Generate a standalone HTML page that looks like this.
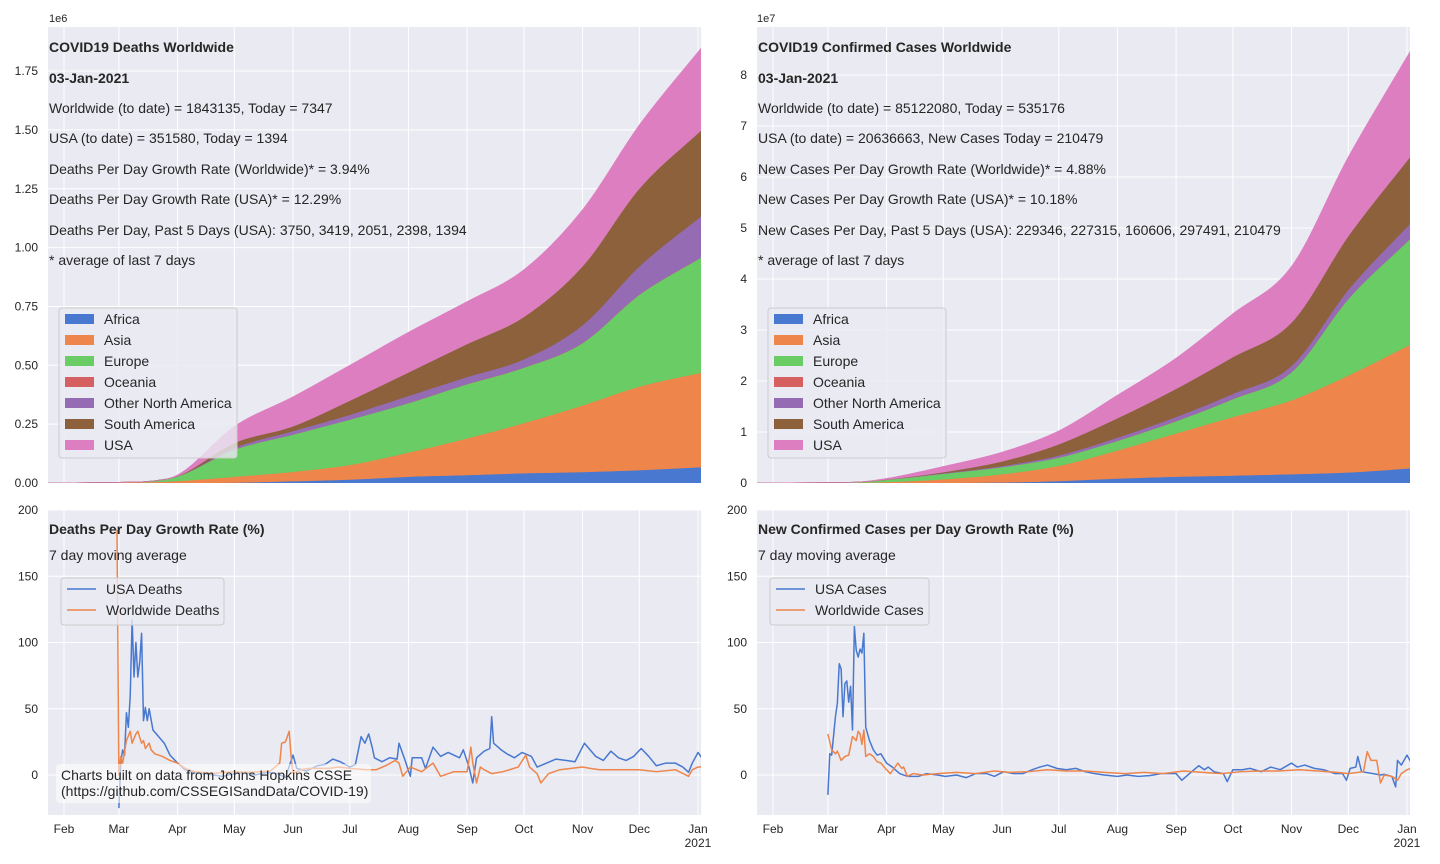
<!DOCTYPE html>
<html><head><meta charset="utf-8"><style>
html,body{margin:0;padding:0;background:#fff;}
svg{display:block;font-family:"Liberation Sans",Arial,sans-serif;}
</style></head><body>
<svg id="root" width="1440" height="864" viewBox="0 0 1440 864" xmlns="http://www.w3.org/2000/svg">
<g id="panels"></g>
<g id="texts" fill="#262626">
 <text x="49" y="22" font-size="11">1e6</text>
 <text x="757" y="22" font-size="11">1e7</text>
 <g font-size="14">
  <text x="49" y="52" font-weight="bold">COVID19 Deaths Worldwide</text>
  <text x="49" y="83" font-weight="bold">03-Jan-2021</text>
  <text x="49" y="113">Worldwide (to date) = 1843135, Today = 7347</text>
  <text x="49" y="143">USA (to date) = 351580, Today = 1394</text>
  <text x="49" y="174">Deaths Per Day Growth Rate (Worldwide)* = 3.94%</text>
  <text x="49" y="204">Deaths Per Day Growth Rate (USA)* = 12.29%</text>
  <text x="49" y="235">Deaths Per Day, Past 5 Days (USA): 3750, 3419, 2051, 2398, 1394</text>
  <text x="49" y="265">* average of last 7 days</text>
 </g>
 <g font-size="14">
  <text x="758" y="52" font-weight="bold">COVID19 Confirmed Cases Worldwide</text>
  <text x="758" y="83" font-weight="bold">03-Jan-2021</text>
  <text x="758" y="113">Worldwide (to date) = 85122080, Today = 535176</text>
  <text x="758" y="143">USA (to date) = 20636663, New Cases Today = 210479</text>
  <text x="758" y="174">New Cases Per Day Growth Rate (Worldwide)* = 4.88%</text>
  <text x="758" y="204">New Cases Per Day Growth Rate (USA)* = 10.18%</text>
  <text x="758" y="235">New Cases Per Day, Past 5 Days (USA): 229346, 227315, 160606, 297491, 210479</text>
  <text x="758" y="265">* average of last 7 days</text>
 </g>
 <text x="49" y="534" font-size="14" font-weight="bold">Deaths Per Day Growth Rate (%)</text>
 <text x="49" y="560" font-size="14">7 day moving average</text>
 <text x="758" y="534" font-size="14" font-weight="bold">New Confirmed Cases per Day Growth Rate (%)</text>
 <text x="758" y="560" font-size="14">7 day moving average</text>
</g>
</svg>
<script>
const NS="http://www.w3.org/2000/svg";
const regions=['Africa','Asia','Europe','Oceania','Other North America','South America','USA'];
const regionColors=['#4878d0','#ee854a','#6acc64','#d65f5f','#956cb4','#8c613c','#dc7ec0'];
const areaDates=['01-22','02-01','03-01','03-15','04-01','05-01','06-01','07-01','08-01','09-01','10-01','11-01','12-01','01-03'];
const deathsAfrica=[0,0,0,0,0.0005,0.002,0.008,0.015,0.027,0.034,0.042,0.047,0.055,0.068];
const deathsAsia=[0,0.0003,0.003,0.004,0.008,0.025,0.04,0.062,0.103,0.156,0.213,0.283,0.355,0.402];
const deathsEurope=[0,0,0,0.002,0.02,0.115,0.158,0.193,0.21,0.23,0.235,0.265,0.39,0.49];
const deathsOceania=[0,0,0,0,0.00003,0.0001,0.0001,0.0001,0.0002,0.0008,0.0009,0.0009,0.0009,0.001];
const deathsOtherNA=[0,0,0,0,0.0005,0.008,0.015,0.02,0.03,0.03,0.035,0.075,0.12,0.175];
const deathsSouthAm=[0,0,0,0,0.0005,0.02,0.02,0.06,0.10,0.14,0.18,0.25,0.33,0.365];
const deathsUSA=[0,0,0,0,0.005,0.07,0.125,0.15,0.17,0.18,0.2,0.24,0.27,0.35];
const casesAfrica=[0,0,0,0,0.0005,0.004,0.014,0.04,0.09,0.125,0.147,0.175,0.21,0.29];
const casesAsia=[0,0.0012,0.008,0.009,0.02,0.07,0.16,0.30,0.55,0.85,1.15,1.45,1.9,2.43];
const casesEurope=[0,0,0.0001,0.006,0.045,0.11,0.14,0.16,0.19,0.24,0.35,0.55,1.5,2.08];
const casesOceania=[0,0,0,0,0.0005,0.0008,0.0009,0.001,0.002,0.003,0.003,0.003,0.003,0.004];
const casesOtherNA=[0,0,0,0,0.002,0.01,0.02,0.04,0.06,0.08,0.1,0.12,0.18,0.3];
const casesSouthAm=[0,0,0,0,0.002,0.02,0.09,0.22,0.38,0.55,0.72,0.85,1.05,1.31];
const casesUSA=[0,0,0,0,0.02,0.11,0.18,0.26,0.45,0.6,0.85,1.1,1.55,2.07];
const deathTicks=['0.00','0.25','0.50','0.75','1.00','1.25','1.50','1.75'];
const caseTicks=['0','1','2','3','4','5','6','7','8'];
const rateTicks=['0','50','100','150','200'];
const monthLabels=['Feb','Mar','Apr','May','Jun','Jul','Aug','Sep','Oct','Nov','Dec','Jan'];
const monthDates=['02-01','03-01','04-01','05-01','06-01','07-01','08-01','09-01','10-01','11-01','12-01','01-01'];
const usaDeathDates=['03-01','03-02','03-03','03-04','03-05','03-06','03-07','03-08','03-09','03-10','03-11','03-12','03-13','03-14','03-15','03-16','03-17','03-19','03-22','03-25','03-28','04-01','04-05','04-10','04-15','04-20','04-25','05-01','05-06','05-12','05-18','05-24','05-28','06-01','06-03','06-08','06-14','06-18','06-22','06-26','07-01','07-04','07-07','07-09','07-11','07-13','07-14','07-18','07-22','07-26','07-27','07-30','08-02','08-03','08-08','08-10','08-14','08-18','08-22','08-28','08-30','09-02','09-04','09-06','09-10','09-13','09-14','09-15','09-19','09-22','09-26','09-30','10-05','10-08','10-13','10-18','10-23','10-28','11-02','11-05','11-08','11-12','11-16','11-20','11-24','11-28','12-02','12-06','12-10','12-15','12-20','12-24','12-27','12-29','01-01','01-03'];
const usaDeathRates=[-25,10,19,15,47,36,60,117,74,100,74,85,107,41,51,41,50,34,29,24,15,9,4,1.5,1,0,-1,1,2,0,2,1,-2,15,5,3,7,8,12,10,6,8,29,24,31,20,13,10,13,12,24,12,-1,13,13,5,21,14,17,13,19,6,-6,13,18,20,44,24,19,16,13,17,14,6,9,12,11,10,24,19,14,11,18,13,11,14,20,14,7,9,9,6,2,9,17,13];
const worldDeathDates=['02-29','03-01','03-02','03-03','03-05','03-07','03-08','03-10','03-11','03-13','03-14','03-15','03-17','03-18','03-20','03-24','03-28','04-01','04-05','04-10','04-20','05-01','05-10','05-20','05-25','05-26','05-28','05-30','05-31','06-01','06-05','06-10','06-20','06-25','07-01','07-10','07-15','07-20','07-25','07-27','07-29','08-02','08-08','08-14','08-18','08-25','09-01','09-03','09-04','09-06','09-08','09-10','09-14','09-20','09-28','10-02','10-04','10-08','10-10','10-14','10-20','10-26','11-01','11-05','11-10','11-20','12-01','12-10','12-20','12-27','12-29','01-01','01-03'];
const worldDeathRates=[185,0,14,9,26,33,24,31,33,24,26,20,24,19,16,14,11,9,5,2.5,1.2,2.5,2,3,9,24,25,33,14,1,4,5,5,6,5,4,4,7,11,9,-1,6,2.5,9,-1,2.5,2.5,21,9,-6,6,4,1,2.5,6,15,6,1,-6,1,4,5,6,5,4,4,4,2.5,4,-1,4,6,6];
const usaCaseDates=['03-01','03-02','03-03','03-05','03-06','03-07','03-08','03-09','03-10','03-11','03-12','03-13','03-14','03-15','03-16','03-17','03-18','03-19','03-20','03-21','03-23','03-25','03-27','03-29','04-01','04-04','04-08','04-12','04-18','04-22','04-28','05-02','05-08','05-13','05-18','05-24','05-28','06-02','06-07','06-12','06-17','06-21','06-25','06-30','07-05','07-10','07-15','07-20','07-25','08-01','08-06','08-12','08-18','08-24','09-01','09-04','09-08','09-13','09-16','09-18','09-21','09-26','09-28','10-01','10-06','10-10','10-16','10-21','10-26','11-01','11-04','11-08','11-13','11-18','11-24','11-28','11-30','12-02','12-05','12-06','12-08','12-14','12-18','12-20','12-24','12-26','12-27','12-29','01-01','01-03'];
const usaCaseRates=[-15,16,15,44,54,84,80,44,69,71,55,67,34,112,94,89,95,92,107,36,26,19,15,16,9,6,1,-1,-1,1,0,-1,0,-2,1,1,-1,2.5,1,1,4,6,7.5,5,4,5,2.5,1,0,-1,0,-1,-0.5,1,1,-4,1,7,4,6,2.5,1,-5,4,4,5,2.5,6,4,9,6,7.5,5,4,1,1,-4,5,6,14,2.5,1,0,0.5,-1,-9,11,7.5,15,10];
const worldCaseDates=['03-01','03-03','03-05','03-06','03-08','03-10','03-12','03-14','03-16','03-17','03-18','03-19','03-20','03-21','03-23','03-25','03-27','03-29','04-01','04-03','04-05','04-07','04-09','04-10','04-12','04-15','04-20','04-28','05-08','05-18','05-28','06-05','06-15','06-25','07-05','07-15','07-25','08-05','08-15','08-25','09-05','09-15','09-25','10-05','10-15','10-25','11-05','11-15','11-25','12-01','12-09','12-11','12-13','12-16','12-18','12-20','12-24','12-27','12-29','01-01','01-03'];
const worldCaseRates=[31,19,16,18,11,14,15,29,26,33,31,23,34,14,16,14,10,9,4,1,5,9,5,6,-1,1,0,1,2,1,3,2,2.5,4,3,3,2,1,2,1,3,2,1,2.5,3,3,4,3,2,1,2.5,17.6,11,11,-6,0,-1,-4,1,4,5];

function dayOf(s){const m=+s.slice(0,2),d=+s.slice(3,5);const y=(m===1&&d<15)?2021:2020;return (Date.UTC(y,m-1,d)-Date.UTC(2020,1,1))/86400000;}
function el(tag,attrs,parent){const e=document.createElementNS(NS,tag);for(const k in attrs)e.setAttribute(k,attrs[k]);parent.appendChild(e);return e;}
const root=document.getElementById('panels');

function monoSegs(xs,ys){
  const n=xs.length,d=[],m=[];
  for(let i=0;i<n-1;i++)d.push((ys[i+1]-ys[i])/(xs[i+1]-xs[i]));
  m[0]=d[0];m[n-1]=d[n-2];
  for(let i=1;i<n-1;i++)m[i]=(d[i-1]*d[i]<=0)?0:(d[i-1]+d[i])/2;
  for(let i=0;i<n-1;i++){
    if(d[i]===0){m[i]=0;m[i+1]=0;continue;}
    const a=m[i]/d[i],b=m[i+1]/d[i],s=a*a+b*b;
    if(s>9){const t=3/Math.sqrt(s);m[i]=t*a*d[i];m[i+1]=t*b*d[i];}
  }
  const segs=[];
  for(let i=0;i<n-1;i++){
    const h=(xs[i+1]-xs[i])/3;
    segs.push([xs[i]+h,ys[i]+m[i]*h,xs[i+1]-h,ys[i+1]-m[i+1]*h,xs[i+1],ys[i+1]]);
  }
  return segs;
}
function segStr(segs,flip){
  return segs.map(s=>'C'+(flip?-s[0]:s[0])+','+s[1]+' '+(flip?-s[2]:s[2])+','+s[3]+' '+(flip?-s[4]:s[4])+','+s[5]).join('');
}

function panel(left,top,bottom,name,ticks,yFn,tickVals){
  const g=el('g',{},root);
  
  
  const bg=el('rect',{x:left,y:top,width:653,height:bottom-top,fill:'#eaeaf2'},g);
  
  
  const xOf=s=>left+16+dayOf(s)*1.8925;
  monthDates.forEach((m,i)=>{
    const x=xOf(m);
    const gl=el('line',{x1:x,x2:x,y1:top,y2:bottom,stroke:'#fff','stroke-width':1},g);
    
    
  });
  tickVals.forEach((v,i)=>{
    const y=yFn(v);
    const gl=el('line',{x1:left,x2:left+653,y1:y,y2:y,stroke:'#fff','stroke-width':1},g);
    
    
    const t=el('text',{x:left-10,y:y+4,'font-size':12,'text-anchor':'end',fill:'#262626'},g);
    t.textContent=ticks[i];
    
    
  });
  const cid='clip'+name;
  const cp=el('clipPath',{id:cid},g);
  el('rect',{x:left,y:top,width:653,height:bottom-top},cp);
  const plot=el('g',{'clip-path':'url(#'+cid+')'},g);
  return {g,plot,xOf};
}
function xAxis(p,bottom){
  monthDates.forEach((m,i)=>{
    const t=el('text',{x:p.xOf(m),y:bottom+18,'font-size':12,'text-anchor':'middle',fill:'#262626'},p.g);
    t.textContent=monthLabels[i];
    
    
  });
  const t=el('text',{x:p.xOf('01-01'),y:bottom+32,'font-size':12,'text-anchor':'middle',fill:'#262626'},p.g);
  t.textContent='2021';
  
  
}
function stacked(p,series,yFn,prefix){
  let base=areaDates.map(()=>0);
  const xs=areaDates.map(d=>p.xOf(d));
  series.forEach((s,k)=>{
    const tops=base.map((b,i)=>b+s[i]);
    const yt=tops.map(yFn), yb=base.map(yFn);
    let d='M'+xs[0]+','+yt[0]+segStr(monoSegs(xs,yt),false);
    const rx=xs.slice().reverse(), ry=yb.slice().reverse();
    d+='L'+rx[0]+','+ry[0];
    d+=segStr(monoSegs(rx.map(v=>-v),ry),true);
    const a=el('path',{d:d+'Z',fill:regionColors[k],stroke:regionColors[k],'stroke-width':0.6},p.plot);
    
    
    base=tops;
  });
}
function legendAreas(x,y,prefix){
  const lg=el('g',{},root);
  
  
  el('rect',{x:x,y:y,width:178,height:150,rx:3,fill:'#eaeaf2','fill-opacity':0.8,stroke:'#cccccc'},lg);
  regions.forEach((r,i)=>{
    const cy=y+11+i*21;
    const sw=el('rect',{x:x+6,y:cy-5,width:29,height:10,fill:regionColors[i]},lg);
    
    
    const t=el('text',{x:x+45,y:cy+5,'font-size':14,fill:'#262626'},lg);
    t.textContent=r;
    
    
  });
}
function line(p,dates,vals,yFn,color,name){
  const pts=dates.map((d,i)=>p.xOf(d)+','+yFn(vals[i])).join(' ');
  const l=el('polyline',{points:pts,fill:'none',stroke:color,'stroke-width':1.5,'stroke-linejoin':'round'},p.plot);
  
  
}
function legendLines(x,y,w,labels,prefix){
  const lg=el('g',{},root);
  
  
  el('rect',{x:x,y:y,width:w,height:47,rx:3,fill:'#eaeaf2','fill-opacity':0.8,stroke:'#cccccc'},lg);
  labels.forEach((lab,i)=>{
    const cy=y+11+i*21;
    const ln=el('line',{x1:x+6,x2:x+35,y1:cy,y2:cy,stroke:['#4878d0','#ee854a'][i],'stroke-width':1.5},lg);
    
    
    const t=el('text',{x:x+45,y:cy+5,'font-size':14,fill:'#262626'},lg);
    t.textContent=lab;
    
    
  });
}
const yD=v=>483-v*235.4;
const pD=panel(48,27,483,'deaths-chart',deathTicks,yD,deathTicks.map(Number));
stacked(pD,[deathsAfrica,deathsAsia,deathsEurope,deathsOceania,deathsOtherNA,deathsSouthAm,deathsUSA],yD,'deaths');
const yC=v=>483-v*51;
const pC=panel(757,27,483,'cases-chart',caseTicks,yC,caseTicks.map(Number));
stacked(pC,[casesAfrica,casesAsia,casesEurope,casesOceania,casesOtherNA,casesSouthAm,casesUSA],yC,'cases');
const yR=v=>775-v*1.325;
const pDR=panel(48,510,815,'deaths-growth-chart',rateTicks,yR,rateTicks.map(Number));
line(pDR,usaDeathDates,usaDeathRates,yR,'#4878d0','usa-deaths-line');
line(pDR,worldDeathDates,worldDeathRates,yR,'#ee854a','worldwide-deaths-line');
xAxis(pDR,815);
const pCR=panel(757,510,815,'cases-growth-chart',rateTicks,yR,rateTicks.map(Number));
line(pCR,usaCaseDates,usaCaseRates,yR,'#4878d0','usa-cases-line');
line(pCR,worldCaseDates,worldCaseRates,yR,'#ee854a','worldwide-cases-line');
xAxis(pCR,815);
legendAreas(59,308,'deaths');
legendAreas(768,308,'cases');
legendLines(61,578,163,['USA Deaths','Worldwide Deaths'],'deaths-growth');
legendLines(770,578,159,['USA Cases','Worldwide Cases'],'cases-growth');
const note=el('g',{},root);


el('rect',{x:56,y:764,width:315,height:39,rx:4,fill:'#ffffff','fill-opacity':0.55},note);
const n1=el('text',{x:61,y:780,'font-size':14,fill:'#262626'},note);
n1.textContent='Charts built on data from Johns Hopkins CSSE';


const n2=el('text',{x:61,y:796,'font-size':14,fill:'#262626'},note);
n2.textContent='(https://github.com/CSSEGISandData/COVID-19)';


document.getElementById('root').appendChild(document.getElementById('texts'));
</script>
</body></html>
